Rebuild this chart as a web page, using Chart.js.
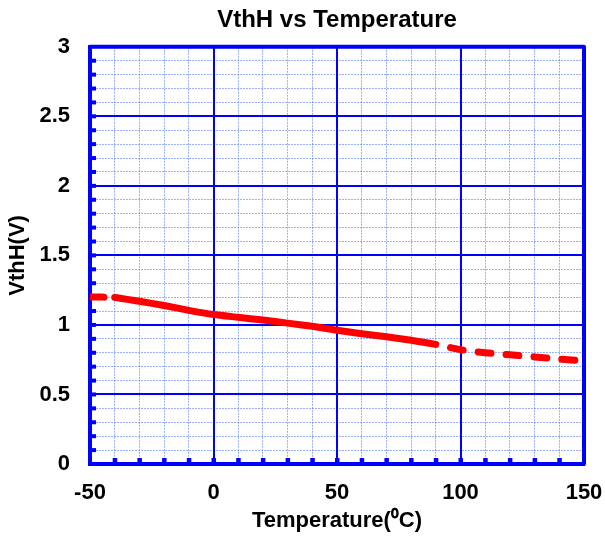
<!DOCTYPE html>
<html>
<head>
<meta charset="utf-8">
<script src="https://cdn.jsdelivr.net/npm/chart.js@4"></script>
<style>
  body { margin: 0; background: #fff; }
  canvas { display: block; }
</style>
</head>
<body>
<canvas id="vthChart" width="605" height="537"></canvas>
<script>
// datos
const temperaturas = [-50, -40, -30, -20, -10, 0, 10, 20, 30, 40, 50, 60, 70, 80, 90, 100, 110, 120, 130, 140, 150];
const vthH = [1.20, 1.198, 1.17, 1.14, 1.105, 1.075, 1.055, 1.035, 1.013, 0.99, 0.962, 0.937, 0.915, 0.89, 0.86, 0.822, 0.80, 0.785, 0.77, 0.755, 0.742];
const xTicks = [-50, 0, 50, 100, 150];
const yTicks = [0, 0.5, 1, 1.5, 2, 2.5, 3];

const AZUL = "#0000ff";
const fuente = "'Liberation Sans', Arial, sans-serif";

// marco del area y marcas menores hacia dentro
const marcoPlugin = {
    id: "marco",
    afterLayout(chart) {
        // centrar el titulo sobre el area del grafico
        const t = chart.titleBlock;
        if (t) {
            t.left = chart.chartArea.left;
            t.right = chart.chartArea.right;
            t.width = t.right - t.left;
        }
    },
    beforeDatasetsDraw(chart) {
        const { ctx, chartArea: a, scales } = chart;
        ctx.save();
        ctx.fillStyle = AZUL;
        for (let v = -40; v < 150; v += 10) {
            const px = scales.x.getPixelForValue(v);
            ctx.fillRect(px - 2, a.bottom - 6, 4.5, 6);
        }
        for (let i = 1; i < 30; i++) {
            const py = scales.y.getPixelForValue(i / 10);
            ctx.fillRect(a.left, py - 2, 6, 4);
        }
        ctx.strokeStyle = AZUL;
        ctx.lineWidth = 4;
        ctx.lineJoin = "round";
        ctx.strokeRect(a.left, a.top, a.right - a.left, a.bottom - a.top);
        ctx.restore();
    }
};

const sinRelleno = s => { s.paddingLeft = 0; s.paddingRight = 0; s.paddingTop = 0; s.paddingBottom = 0; };

const ctx = document.getElementById("vthChart").getContext("2d");
new Chart(ctx, {
    type: "line",
    data: {
        datasets: [{
            label: "VthH",
            data: temperaturas.map((t, i) => ({ x: t, y: vthH[i] })),
            borderColor: "#ff0000",
            borderWidth: 7,
            borderCapStyle: "round",
            borderJoinStyle: "round",
            pointRadius: 0,
            tension: 0.2,
            segment: {
                borderDash: c => {
                    if (c.p1.parsed.x <= -40) return [14, 20];
                    if (c.p0.parsed.x >= 90) return [13, 15];
                    return undefined;
                },
                borderDashOffset: c => (c.p0.parsed.x >= 90 ? 13 : 0)
            }
        }]
    },
    options: {
        responsive: false,
        animation: false,
        layout: { padding: { left: 0, right: 21, top: 0, bottom: 0 } },
        plugins: {
            legend: { display: false },
            tooltip: { enabled: false },
            title: {
                display: true,
                text: "VthH vs Temperature",
                color: "#000",
                font: { family: fuente, size: 24, weight: "bold" },
                padding: { top: 6, bottom: 12 }
            }
        },
        scales: {
            xMenor: {
                type: "linear",
                position: "bottom",
                min: -50, max: 150,
                ticks: { display: false, stepSize: 10 },
                grid: {
                    drawTicks: false,
                    lineWidth: 1,
                    color: c => (c.tick && c.tick.value % 50 === 0 ? "rgba(0,0,0,0)" : "rgba(70,110,255,0.55)")
                },
                border: { display: false, dash: [2, 1] },
                afterFit: s => { s.height = 0; sinRelleno(s); }
            },
            yMenor: {
                type: "linear",
                position: "left",
                min: 0, max: 3,
                ticks: { display: false, stepSize: 0.1 },
                grid: {
                    drawTicks: false,
                    lineWidth: 1,
                    color: c => (c.tick && Math.abs(c.tick.value * 2 - Math.round(c.tick.value * 2)) < 1e-6 ? "rgba(0,0,0,0)" : "rgba(70,110,255,0.55)")
                },
                border: { display: false, dash: [2, 1] },
                afterFit: s => { s.width = 0; sinRelleno(s); }
            },
            x: {
                type: "linear",
                position: "bottom",
                min: -50, max: 150,
                afterBuildTicks: s => { s.ticks = xTicks.map(v => ({ value: v })); },
                ticks: {
                    color: "#000",
                    padding: 16,
                    callback: v => String(v),
                    font: { family: fuente, size: 22, weight: "bold" }
                },
                grid: { color: AZUL, lineWidth: 2, drawTicks: false },
                border: { color: AZUL, width: 4 },
                title: {
                    display: true,
                    text: "Temperature(\u2070C)",
                    color: "#000",
                    font: { family: fuente, size: 22, weight: "bold" },
                    padding: { top: 0, bottom: 3 }
                },
                afterFit: s => { s.height = 73; sinRelleno(s); }
            },
            y: {
                type: "linear",
                position: "left",
                min: 0, max: 3,
                afterBuildTicks: s => { s.ticks = yTicks.map(v => ({ value: v })); },
                ticks: {
                    color: "#000",
                    padding: 20,
                    callback: v => String(v),
                    font: { family: fuente, size: 22, weight: "bold" }
                },
                grid: { color: AZUL, lineWidth: 2, drawTicks: false },
                border: { color: AZUL, width: 4 },
                title: {
                    display: true,
                    text: "VthH(V)",
                    color: "#000",
                    font: { family: fuente, size: 22, weight: "bold" },
                    padding: { top: 5, bottom: 0 }
                },
                afterFit: s => { s.width = 90; sinRelleno(s); }
            }
        }
    },
    plugins: [marcoPlugin]
});
</script>
</body>
</html>
